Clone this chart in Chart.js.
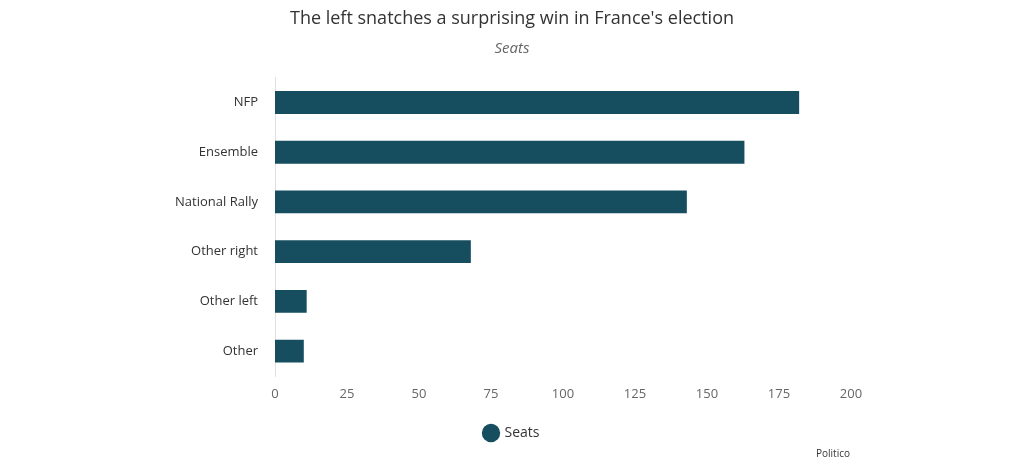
<!DOCTYPE html>
<html>
<head>
<meta charset="utf-8">
<script src="https://cdn.jsdelivr.net/npm/chart.js@4"></script>
<style>
  html, body { margin: 0; padding: 0; background: #fff; }
  #wrap { width: 1024px; height: 465px; }
</style>
</head>
<body>
<div id="wrap"><canvas id="myChart"></canvas></div>
<script>
const parties = ['NFP', 'Ensemble', 'National Rally', 'Other right', 'Other left', 'Other'];
const seats = [182, 163, 143, 68, 11, 10];
const xTicks = [0, 25, 50, 75, 100, 125, 150, 175, 200];

const barColor = '#174e5f';
Chart.defaults.font.family = '"Open Sans", sans-serif';

// source note at bottom right
const credits = {
    id: 'credits',
    afterDraw(chart) {
        const c = chart.ctx;
        c.save();
        c.font = '10px "Open Sans", sans-serif';
        c.fillStyle = '#333';
        c.textAlign = 'right';
        c.textBaseline = 'middle';
        c.fillText('Politico', 850, 454);
        c.restore();
    }
};

const ctx = document.getElementById('myChart');
new Chart(ctx, {
    type: 'bar',
    data: {
        labels: parties,
        datasets: [{
            label: 'Seats',
            data: seats,
            backgroundColor: barColor,
            borderWidth: 0,
            categoryPercentage: 1,
            barPercentage: 0.46
        }]
    },
    options: {
        indexAxis: 'y',
        responsive: true,
        maintainAspectRatio: false,
        animation: false,
        layout: { padding: { top: 0, bottom: 15, left: 0, right: 0 } },
        plugins: {
            title: {
                display: true,
                text: "The left snatches a surprising win in France's election",
                color: '#333',
                font: { size: 18, weight: 'normal' },
                padding: { top: 8, bottom: 8 }
            },
            subtitle: {
                display: true,
                text: 'Seats',
                color: '#666',
                font: { size: 15, style: 'italic' },
                padding: { top: 2, bottom: 20 }
            },
            legend: {
                position: 'bottom',
                labels: {
                    usePointStyle: true,
                    pointStyle: 'circle',
                    boxWidth: 13,
                    boxHeight: 13,
                    color: '#333',
                    font: { size: 14 },
                    padding: 10
                }
            },
            tooltip: { enabled: false }
        },
        scales: {
            x: {
                min: 0,
                max: 200,
                afterBuildTicks: (s) => { s.ticks = xTicks.map(v => ({ value: v })); },
                grid: { display: false },
                border: { display: false },
                ticks: { color: '#666', font: { size: 13 }, padding: 2 },
                afterFit: (s) => { s.height = 40; }
            },
            y: {
                grid: { display: false },
                border: { display: true, color: '#e0e0e0', width: 1 },
                ticks: { color: '#333', font: { size: 13 }, padding: 9 },
                afterFit: (s) => { s.width = 275; }
            },
            pad: {
                type: 'linear',
                position: 'right',
                display: true,
                grid: { display: false },
                border: { display: false },
                ticks: { display: false },
                afterFit: (s) => { s.width = 173; }
            }
        }
    },
    plugins: [credits]
});
</script>
</body>
</html>
